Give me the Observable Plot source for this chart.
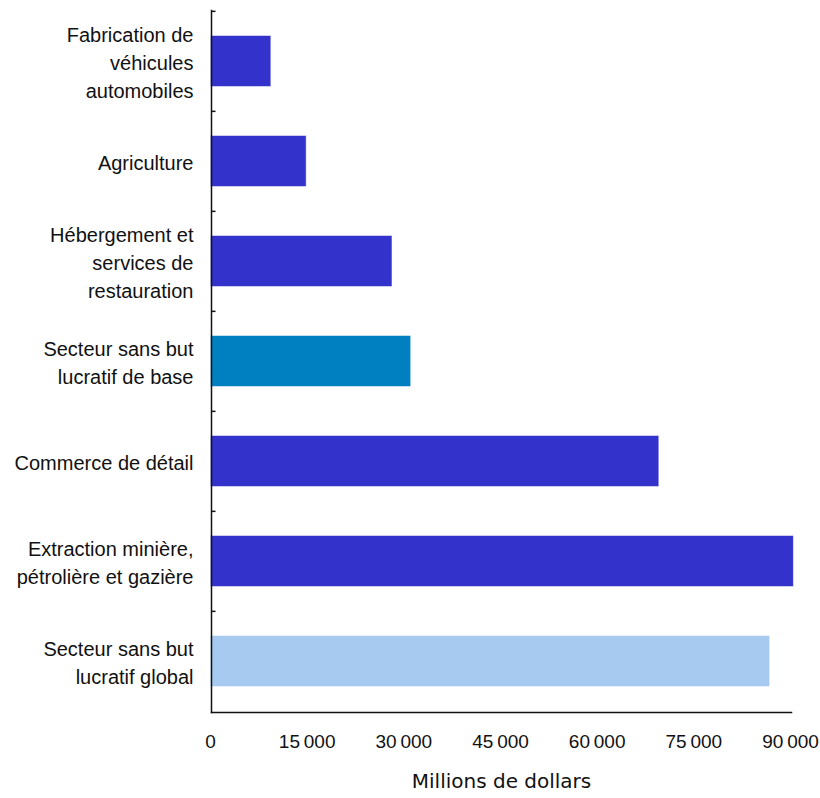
<!DOCTYPE html>
<html>
<head>
<meta charset="utf-8">
<script src="https://cdn.jsdelivr.net/npm/d3@7"></script>
<script src="https://cdn.jsdelivr.net/npm/@observablehq/plot@0.6"></script>
<style>
  html, body { margin: 0; padding: 0; background: #fff; }
  svg { display: block; }
</style>
</head>
<body>
<div id="chart"></div>
<script>
const categories = [
  "Fabrication de\nvéhicules\nautomobiles",
  "Agriculture",
  "Hébergement et\nservices de\nrestauration",
  "Secteur sans but\nlucratif de base",
  "Commerce de détail",
  "Extraction minière,\npétrolière et gazière",
  "Secteur sans but\nlucratif global"
];
const values = [9200, 14700, 28000, 30900, 69400, 90300, 86600];
const groups = ["autre", "autre", "autre", "base", "autre", "autre", "global"];
const xTicks = [0, 15000, 30000, 45000, 60000, 75000, 90000];
const xLabel = "Millions de dollars";

const data = categories.map((c, i) => ({category: c, value: values[i], group: groups[i]}));

const W = 820, H = 798;
const mTop = 10, mBottom = 86, mLeft = 211, mRight = 29;
const step = (H - mTop - mBottom) / categories.length;
const bw = step * 0.5;
const fmt = d => d3.format(",")(d).replace(/,/g, "\u2009");
const font = "Liberation Sans, Arial, sans-serif";
const last = categories[categories.length - 1];

const chart = Plot.plot({
  width: W,
  height: H,
  marginTop: mTop,
  marginBottom: mBottom,
  marginLeft: mLeft,
  marginRight: mRight,
  style: {fontFamily: font, fontSize: "20px", color: "#111", background: "#fff"},
  x: {domain: [0, 90000]},
  y: {domain: categories, paddingInner: 0.5, paddingOuter: 0.25},
  color: {domain: ["autre", "base", "global"], range: ["#3333cc", "#0080c0", "#a6caf0"]},
  marks: [
    Plot.barX(data, {y: "category", x: "value", fill: "group", stroke: "group", strokeOpacity: 0.5}),
    Plot.frame({anchor: "left", stroke: "#111", strokeWidth: 1.5}),
    Plot.frame({anchor: "bottom", stroke: "#111", strokeWidth: 1.5}),
    // band boundary ticks on y axis (inward)
    Plot.ruleY(categories, {y: d => d, dy: -step / 2, x1: 0, x2: 700, stroke: "#111", strokeWidth: 1.5}),
    // x ticks (inward)
    Plot.tickX(xTicks, {x: d => d, y: last, dy: (step - bw) / 2, insetTop: bw - 5, insetBottom: 0, stroke: "#111", strokeWidth: 1.5}),
    Plot.axisY({tickSize: 0, tickPadding: 18, fontSize: 20, lineHeight: 1.4, textAnchor: "end", label: null}),
    Plot.axisX({ticks: xTicks, tickSize: 0, tickPadding: 22, tickFormat: fmt, fontSize: 19, dx: -1, label: null}),
    Plot.text([xLabel], {frameAnchor: "bottom", dy: 75, text: d => d, fontSize: 20, fontFamily: "DejaVu Sans, Verdana, sans-serif", fill: "#111"})
  ]
});

document.getElementById("chart").appendChild(chart);
</script>
</body>
</html>
